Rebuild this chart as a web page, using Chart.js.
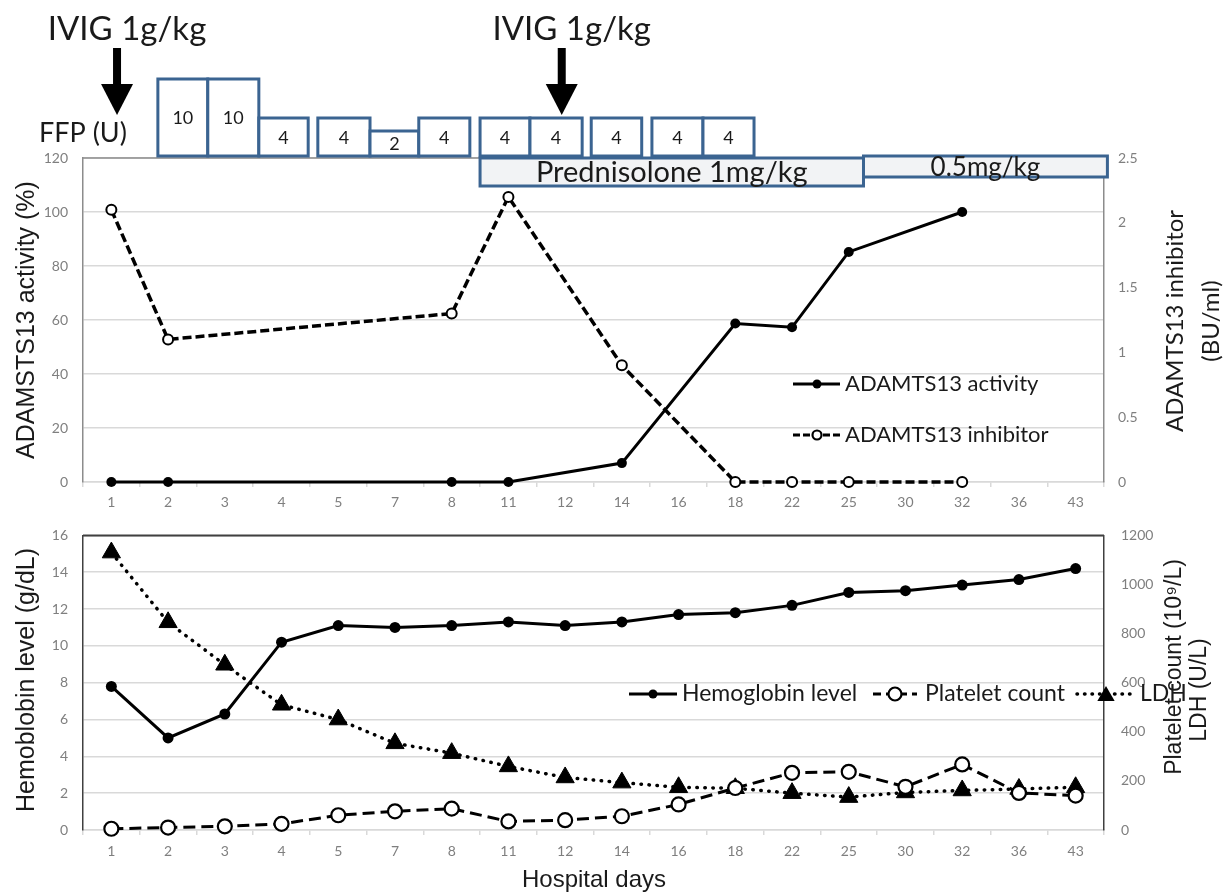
<!DOCTYPE html>
<html>
<head>
<meta charset="utf-8">
<script src="https://cdn.jsdelivr.net/npm/chart.js@4"></script>
<style>
  html, body { margin: 0; padding: 0; background: #fff; }
  #wrap { position: relative; width: 1226px; height: 894px; overflow: hidden; }
  canvas { position: absolute; left: 0; }
  #top { top: 0; }
  #bottom { top: 510px; }
</style>
</head>
<body>
<div id="wrap">
  <canvas id="top" width="1226" height="520"></canvas>
  <canvas id="bottom" width="1226" height="384"></canvas>
</div>
<script>
// hospital days (category axis, shared by both panels)
const days = ['1','2','3','4','5','7','8','11','12','14','16','18','22','25','30','32','36','43'];

// top panel
const activity  = [0, 0, null, null, null, null, 0, 0, null, 7, null, 58.7, 57.3, 85.2, null, 100, null, null];
const inhibitor = [2.1, 1.1, null, null, null, null, 1.3, 2.2, null, 0.9, null, 0, 0, 0, null, 0, null, null];

// bottom panel
const hemoglobin = [7.8, 5.0, 6.3, 10.2, 11.1, 11.0, 11.1, 11.3, 11.1, 11.3, 11.7, 11.8, 12.2, 12.9, 13.0, 13.3, 13.6, 14.2];
const platelet   = [5, 10, 15, 25, 60, 76, 87, 35, 40, 56, 104, 171, 233, 237, 176, 267, 151, 140];
const ldh        = [1130, 846, 673, 510, 450, 353, 313, 259, 214, 193, 174, 170, 150, 134, 153, 161, 167, 174];

// treatment annotations
const ffpUnits = [10, 10, 4, 4, 2, 4, 4, 4, 4, 4, 4];
const predLabels = ['Prednisolone 1mg/kg', '0.5mg/kg'];
const ivigLabel = 'IVIG 1g/kg';

// where things sit on the day axis (fractional category index)
const ffpSpans = [[0.82,1.70],[1.70,2.60],[2.60,3.47],[3.64,4.56],[4.56,5.42],[5.42,6.32],[6.50,7.38],[7.38,8.30],[8.46,9.35],[9.53,10.43],[10.43,11.33]];
const predSpans = [[6.50, 13.26], [13.26, 17.56]];
const ivigAt = [0.10, 7.94];

const BOX = '#3b6491';
const TICK = '#7f7f7f';
const GRID = '#d9d9d9';
const CAL = 'Lato, "Open Sans", sans-serif';
const ARIAL = '"Liberation Sans", Arial, sans-serif';

function text(ctx, s, x, y, font, align, rot) {
  ctx.save();
  ctx.translate(x, y);
  if (rot) ctx.rotate(rot);
  ctx.font = font;
  ctx.fillStyle = '#1a1a1a';
  ctx.textAlign = align || 'left';
  ctx.textBaseline = 'middle';
  ctx.fillText(s, 0, 0);
  ctx.restore();
}

function hline(ctx, x0, x1, y, dash, w, cap) {
  ctx.save();
  ctx.strokeStyle = '#000';
  ctx.lineWidth = w || 3;
  ctx.lineCap = cap || 'butt';
  ctx.setLineDash(dash || []);
  ctx.beginPath(); ctx.moveTo(x0, y); ctx.lineTo(x1, y); ctx.stroke();
  ctx.restore();
}

function dot(ctx, x, y, r, open) {
  ctx.save();
  ctx.beginPath(); ctx.arc(x, y, r, 0, Math.PI * 2);
  ctx.fillStyle = open ? '#fff' : '#000';
  ctx.fill();
  if (open) { ctx.lineWidth = 2.2; ctx.strokeStyle = '#000'; ctx.stroke(); }
  ctx.restore();
}

function tri(ctx, x, y, r) {
  ctx.save();
  ctx.beginPath();
  ctx.moveTo(x, y - r);
  ctx.lineTo(x + r * 0.866, y + r / 2);
  ctx.lineTo(x - r * 0.866, y + r / 2);
  ctx.closePath();
  ctx.fillStyle = '#000'; ctx.fill();
  ctx.restore();
}

function arrow(ctx, x, y0, y1) {
  ctx.save();
  ctx.fillStyle = '#000';
  ctx.fillRect(x - 4, y0, 8, y1 - 30 - y0);
  ctx.beginPath();
  ctx.moveTo(x - 16, y1 - 31); ctx.lineTo(x + 16, y1 - 31); ctx.lineTo(x, y1);
  ctx.closePath(); ctx.fill();
  ctx.restore();
}

function box(ctx, x0, x1, y0, y1, fill) {
  ctx.save();
  ctx.fillStyle = fill;
  ctx.fillRect(x0, y0, x1 - x0, y1 - y0);
  ctx.strokeStyle = BOX; ctx.lineWidth = 3;
  ctx.strokeRect(x0, y0, x1 - x0, y1 - y0);
  ctx.restore();
}

const topDecor = {
  id: 'topDecor',
  afterDraw(chart) {
    const ctx = chart.ctx, a = chart.chartArea, xs = chart.scales.x;
    const px = i => xs.getPixelForValue(i);

    // plot frame top
    ctx.save();
    ctx.strokeStyle = '#8c8c8c'; ctx.lineWidth = 1.5;
    ctx.beginPath(); ctx.moveTo(a.left, a.top); ctx.lineTo(a.right, a.top); ctx.stroke();
    ctx.restore();

    // prednisolone bars
    box(ctx, px(predSpans[0][0]), px(predSpans[0][1]), 158, 186, '#f2f3f5');
    box(ctx, px(predSpans[1][0]), px(predSpans[1][1]), 156, 177, '#f2f3f5');
    text(ctx, predLabels[0], (px(predSpans[0][0]) + px(predSpans[0][1])) / 2, 173, '29px ' + CAL, 'center');
    text(ctx, predLabels[1], (px(predSpans[1][0]) + px(predSpans[1][1])) / 2, 168, '26px ' + CAL, 'center');

    // FFP boxes
    ffpUnits.forEach((u, i) => {
      const x0 = px(ffpSpans[i][0]), x1 = px(ffpSpans[i][1]);
      const h = 12 + 6.5 * u;
      box(ctx, x0, x1, 156 - h, 156, '#fff');
      text(ctx, String(u), (x0 + x1) / 2, 156 - h / 2 + 1, '18px ' + CAL, 'center');
    });
    text(ctx, 'FFP (U)', 39, 133, '27px ' + CAL, 'left');

    // IVIG
    ivigAt.forEach(v => {
      const x = px(v);
      arrow(ctx, x, 48, 115);
      text(ctx, ivigLabel, x + 10, 29, '33px ' + CAL, 'center');
    });

    // legend
    const ds = chart.data.datasets;
    hline(ctx, 793, 840, 384);
    dot(ctx, 817, 384, 4.5, false);
    text(ctx, ds[0].label, 845, 384, '22px ' + CAL);
    hline(ctx, 793, 840, 435, [7, 3]);
    dot(ctx, 817, 435, 4.5, true);
    text(ctx, ds[1].label, 845, 435, '22px ' + CAL);

    // axis titles
    text(ctx, 'ADAMSTS13 activity (%)', 27, 320, '25px ' + ARIAL, 'center', -Math.PI / 2);
    text(ctx, 'ADAMTS13 inhibitor', 1175, 321, '24px ' + CAL, 'center', -Math.PI / 2);
    text(ctx, '(BU/ml)', 1211, 321, '24px ' + CAL, 'center', -Math.PI / 2);
  }
};

const bottomDecor = {
  id: 'bottomDecor',
  afterDraw(chart) {
    const ctx = chart.ctx, a = chart.chartArea;
    ctx.save();
    ctx.strokeStyle = '#404040'; ctx.lineWidth = 2;
    ctx.beginPath(); ctx.moveTo(a.left, a.top); ctx.lineTo(a.right, a.top); ctx.stroke();
    ctx.restore();

    const ds = chart.data.datasets;
    const y = 184;
    hline(ctx, 629, 677, y);
    dot(ctx, 653, y, 4.5, false);
    text(ctx, ds[0].label, 682, y, '23px ' + CAL);
    hline(ctx, 873, 917, y, [8, 5]);
    dot(ctx, 895, y, 6.5, true);
    text(ctx, ds[1].label, 925, y, '23px ' + CAL);
    hline(ctx, 1077, 1135, y, [0.5, 7], 3.5, 'round');
    tri(ctx, 1106, y + 2, 10);
    text(ctx, ds[2].label, 1140, y, '23px ' + CAL);

    text(ctx, 'Hemoblobin level (g/dL)', 27, 170, '25px ' + ARIAL, 'center', -Math.PI / 2);
    text(ctx, 'Platelet count (10\u2079/L)', 1175, 157, '23px ' + ARIAL, 'center', -Math.PI / 2);
    text(ctx, 'LDH (U/L)', 1200, 180, '23px ' + ARIAL, 'center', -Math.PI / 2);
    text(ctx, 'Hospital days', 594, 370, '24px ' + ARIAL, 'center');
  }
};

function xAxis(h, pad) {
  return {
    offset: true,
    grid: { display: true, drawOnChartArea: false, drawTicks: true, tickLength: 5, offset: true, color: GRID, lineWidth: 1.5 },
    border: { display: true, color: GRID, width: 1.5 },
    ticks: { color: TICK, font: { family: CAL, size: 14 }, padding: pad, maxRotation: 0, autoSkip: false },
    afterFit: s => { s.height = h; }
  };
}

function yAxis(pos, min, max, step, w, pad, borderColor, grid) {
  return {
    position: pos, min: min, max: max,
    grid: { display: true, drawOnChartArea: grid, drawTicks: false, color: GRID, lineWidth: 1.5 },
    border: { display: true, color: borderColor, width: 1.5 },
    ticks: { stepSize: step, color: TICK, font: { family: CAL, size: 14 }, padding: pad, callback: v => String(v) },
    afterFit: s => { s.width = w; }
  };
}

new Chart(document.getElementById('top'), {
  type: 'line',
  data: {
    labels: days,
    datasets: [
      { label: 'ADAMTS13 activity', data: activity, yAxisID: 'y', borderColor: '#000', backgroundColor: '#000',
        borderWidth: 3, pointRadius: 5, pointBackgroundColor: '#000', pointBorderWidth: 0, spanGaps: true, clip: false },
      { label: 'ADAMTS13 inhibitor', data: inhibitor, yAxisID: 'y1', borderColor: '#000', backgroundColor: '#fff',
        borderWidth: 3.5, borderDash: [9, 4], pointRadius: 5, pointBackgroundColor: '#fff', pointBorderColor: '#000',
        pointBorderWidth: 2, spanGaps: true, clip: false }
    ]
  },
  options: {
    responsive: false,
    animation: false,
    devicePixelRatio: 1,
    layout: { padding: { top: 158, left: 0, right: 0, bottom: 0 } },
    plugins: { legend: { display: false }, tooltip: { enabled: false } },
    scales: {
      x: xAxis(38, 7),
      y: yAxis('left', 0, 120, 20, 83, 15, '#8c8c8c', true),
      y1: yAxis('right', 0, 2.5, 0.5, 122, 14, '#8c8c8c', false)
    }
  },
  plugins: [topDecor]
});

new Chart(document.getElementById('bottom'), {
  type: 'line',
  data: {
    labels: days,
    datasets: [
      { label: 'Hemoglobin level', data: hemoglobin, yAxisID: 'y', borderColor: '#000', backgroundColor: '#000',
        borderWidth: 3, pointRadius: 5.5, pointBackgroundColor: '#000', pointBorderWidth: 0, clip: false },
      { label: 'Platelet count', data: platelet, yAxisID: 'y1', borderColor: '#000', backgroundColor: '#fff',
        borderWidth: 3, borderDash: [12, 6], pointRadius: 7, pointBackgroundColor: '#fff', pointBorderColor: '#000',
        pointBorderWidth: 2.2, clip: false },
      { label: 'LDH', data: ldh, yAxisID: 'y1', borderColor: '#000', backgroundColor: '#000',
        borderWidth: 3.5, borderDash: [0.5, 7.5], borderCapStyle: 'round', pointStyle: 'triangle', pointRadius: 10.5,
        pointBackgroundColor: '#000', pointBorderColor: '#000', pointBorderWidth: 1, clip: false }
    ]
  },
  options: {
    responsive: false,
    animation: false,
    devicePixelRatio: 1,
    layout: { padding: { top: 20, left: 0, right: 0, bottom: 0 } },
    plugins: { legend: { display: false }, tooltip: { enabled: false } },
    scales: {
      x: xAxis(64, 8),
      y: yAxis('left', 0, 16, 2, 83, 15, '#404040', true),
      y1: yAxis('right', 0, 1200, 200, 122, 17, '#404040', false)
    }
  },
  plugins: [bottomDecor]
});
</script>
</body>
</html>
